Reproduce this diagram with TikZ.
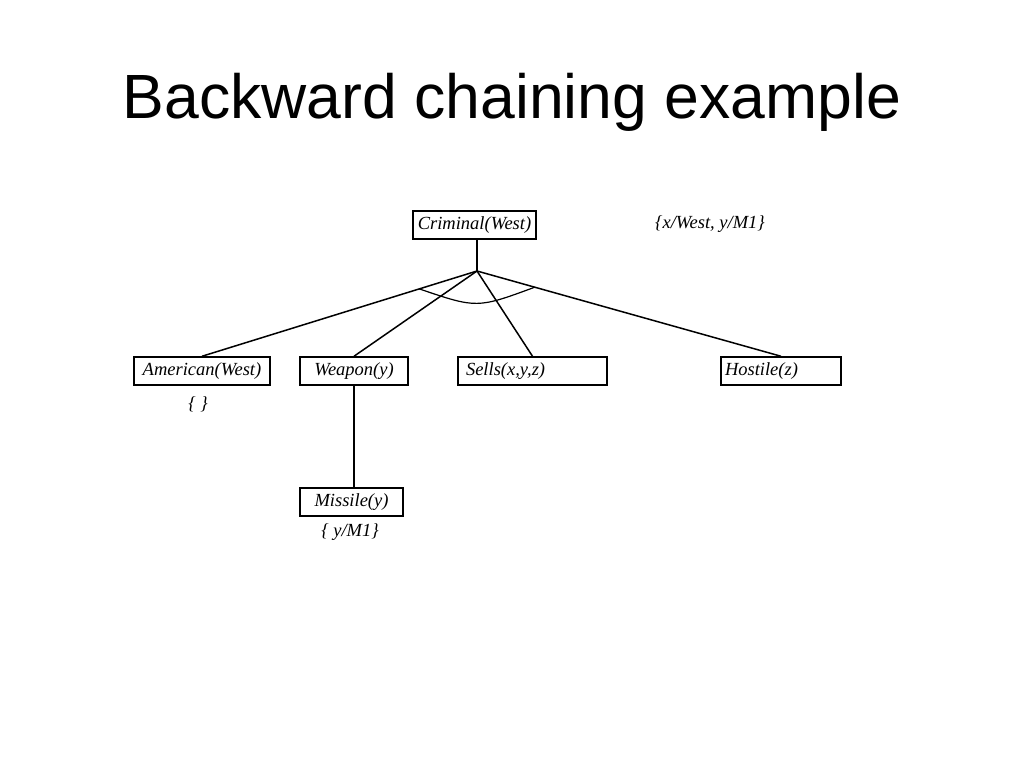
\documentclass[tikz,border=0pt]{standalone}
\usepackage{fontspec}
\setmainfont{Liberation Serif}
\newfontfamily\titlefont{Liberation Sans}
\usetikzlibrary{calc}
\begin{document}
\begin{tikzpicture}[x=1pt,y=-1pt,
  boxnode/.style={draw, line width=1.5pt, minimum height=28pt, inner xsep=2pt, inner ysep=0pt,
     font=\fontsize{18.5}{20}\selectfont\itshape, anchor=center},
  edge/.style={line width=1.5pt},
  subst/.style={font=\fontsize{18.5}{20}\selectfont\itshape, inner sep=0pt}]
\useasboundingbox (0,0) rectangle (1024,768);
\node[font=\titlefont\fontsize{62.5}{64}\selectfont] (title) at (512,102) {Backward chaining example};
\node[boxnode, text width=119pt, align=center] (criminal) at (474.5,225) {Criminal(West)};
\node[subst] (s1) at (710,224) {\{x/West, y/M1\}};
\coordinate (J) at (477,271);
\node[boxnode, text width=132pt, align=center] (american) at (202,371) {American(West)};
\node[boxnode, text width=104pt, align=center] (weapon) at (354,371) {Weapon(y)};
\node[boxnode, text width=145pt, align=left] (sells) at (532.5,371) {\hspace*{6pt}Sells(x,y,z)};
\node[boxnode, text width=116pt, align=left] (hostile) at (781,371) {\hspace*{2pt}Hostile(z)};
\node[boxnode, text width=99pt, align=center] (missile) at (351.5,502) {Missile(y)};
\node[subst] (s2) at (198,404) {\{ \}};
\node[subst] (s3) at (350,532) {\{ y/M1\}};
\draw[edge] (J |- criminal.south) -- (J);
\draw[edge] (J) -- (american.north);
\draw[edge] (J) -- (weapon.north);
\draw[edge] (J) -- (sells.north);
\draw[edge] (J) -- (hostile.north);
\draw[edge] (weapon.south) -- (missile.north -| weapon.south);
\coordinate (a1) at ($(J)!0.21!(american.north)$);
\coordinate (a2) at ($(J)!0.19!(hostile.north)$);
\coordinate (ac) at (477,308.5);
\draw[line width=1.2pt] (a1) .. controls (ac) .. (a2);
\end{tikzpicture}
\end{document}
